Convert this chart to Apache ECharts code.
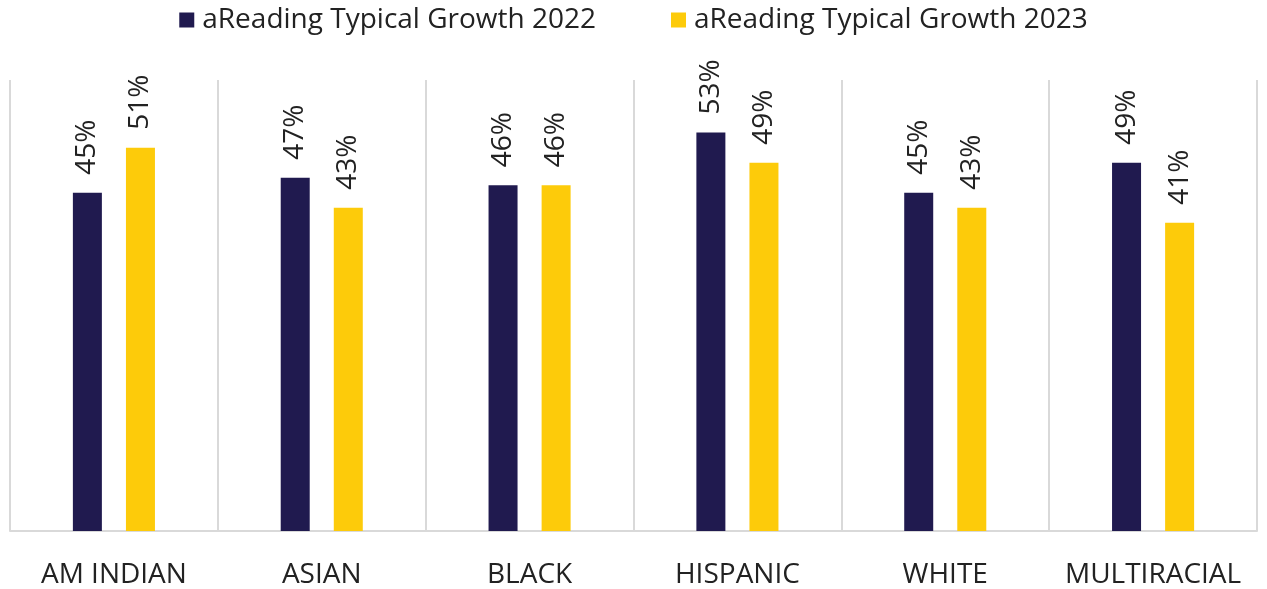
<!DOCTYPE html>
<html>
<head>
<meta charset="utf-8">
<script src="https://cdn.jsdelivr.net/npm/echarts@6/dist/echarts.min.js"></script>
<style>
  html, body { margin: 0; padding: 0; background: #fff; }
  #chart { width: 1267px; height: 589px; }
</style>
</head>
<body>
<div id="chart"></div>
<script>
// Share of students meeting typical growth in aReading, by group
const categories = ['AM INDIAN', 'ASIAN', 'BLACK', 'HISPANIC', 'WHITE', 'MULTIRACIAL'];
const growth2022 = [45, 47, 46, 53, 45, 49];
const growth2023 = [51, 43, 46, 49, 43, 41];
const seriesNames = ['aReading Typical Growth 2022', 'aReading Typical Growth 2023'];

const FONT = '"Open Sans", "Noto Sans", sans-serif';

const labelStyle = {
  show: true,
  position: 'top',
  rotate: 90,
  align: 'left',
  verticalAlign: 'middle',
  distance: 18,
  formatter: p => p.value + '%',
  fontFamily: FONT,
  fontSize: 28,
  color: '#222'
};

const chart = echarts.init(document.getElementById('chart'), null, { renderer: 'canvas' });
chart.setOption({
  animation: false,
  backgroundColor: '#fff',
  legend: {
    top: 1,
    left: 'center',
    itemWidth: 15,
    itemHeight: 15,
    itemGap: 75,
    icon: 'rect',
    textStyle: { fontFamily: FONT, fontSize: 28, color: '#222', padding: [0, 0, 0, 3] },
    data: seriesNames
  },
  grid: { left: 10, right: 10, top: 80, bottom: 58, containLabel: false },
  xAxis: {
    type: 'category',
    data: categories,
    axisTick: { show: false },
    axisLine: { show: true, lineStyle: { color: '#d9d9d9', width: 2 } },
    splitLine: { show: true, lineStyle: { color: '#d9d9d9', width: 2 } },
    axisLabel: {
      interval: 0,
      margin: 30,
      fontFamily: FONT,
      fontSize: 28,
      color: '#222'
    }
  },
  yAxis: {
    type: 'value',
    min: 0,
    max: 60,
    show: false,
    splitLine: { show: false }
  },
  series: [
    {
      name: seriesNames[0],
      type: 'bar',
      data: growth2022,
      barWidth: 29,
      barGap: '83%',
      itemStyle: { color: '#201a4f' },
      label: labelStyle
    },
    {
      name: seriesNames[1],
      type: 'bar',
      data: growth2023,
      barWidth: 29,
      barGap: '83%',
      itemStyle: { color: '#fdcb0a' },
      label: labelStyle
    }
  ]
});
</script>
</body>
</html>
